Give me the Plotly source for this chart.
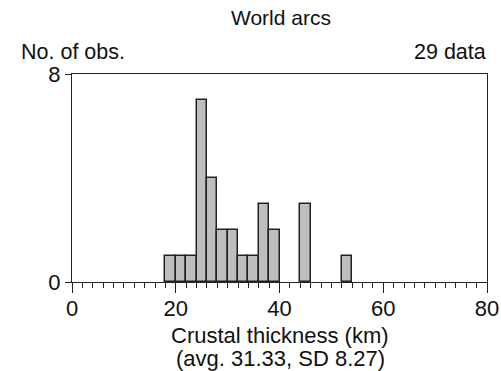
import plotly.graph_objects as go

bin_starts = [18, 20, 22, 24, 26, 28, 30, 32, 34, 36, 38, 40, 42, 44, 46, 48, 50, 52]
counts = [1, 1, 1, 7, 4, 2, 2, 1, 1, 3, 2, 0, 0, 3, 0, 0, 0, 1]
bin_width = 2
x_ticks = [0, 20, 40, 60, 80]
y_ticks = [0, 8]

# only draw non-empty bins (empty ones have no visible bar)
centers = [b + bin_width / 2 for b, c in zip(bin_starts, counts) if c > 0]
heights = [c for c in counts if c > 0]

FONT = "Liberation Sans, Arial, Helvetica, sans-serif"
W, H = 501, 371
pl, pr, pt, pb = 72, 487, 74, 282
FS = 22

fig = go.Figure()
fig.add_trace(go.Bar(
    x=centers, y=heights, width=[bin_width] * len(centers),
    marker=dict(color="#bebebe", line=dict(color="#222222", width=1.5)),
    showlegend=False,
))

fig.update_layout(
    width=W, height=H,
    margin=dict(l=pl, r=W - pr, t=pt, b=H - pb, autoexpand=False),
    paper_bgcolor="white", plot_bgcolor="white",
    font=dict(family=FONT, color="#111111", size=FS),
    bargap=0,
    xaxis=dict(
        range=[0, 80], tickvals=x_ticks, ticks="outside", ticklen=10, tickwidth=1.2,
        tickcolor="#222222", showline=True, linecolor="#222222", linewidth=1.2, mirror=True,
        showgrid=False, zeroline=False, tickfont=dict(size=FS), ticklabelstandoff=-4,
        minor=dict(dtick=2, ticks="outside", ticklen=5, tickwidth=1, tickcolor="#222222", showgrid=False),
    ),
    yaxis=dict(
        range=[0, 8], tickvals=y_ticks, ticks="outside", ticklen=6, tickwidth=1.2,
        tickcolor="#222222", showline=True, linecolor="#222222", linewidth=1.2, mirror=True,
        showgrid=False, zeroline=False, tickfont=dict(size=FS),
    ),
)

# annotations placed at reference pixel positions
ann_specs = [
    ("World arcs", 281, 17, "center", 21),
    ("No. of obs.", 19, 52, "left", 21.5),
    ("29 data", 488, 52, "right", 21.5),
    ("Crustal thickness (km)", 280, 335, "center", FS),
    ("(avg. 31.33, SD 8.27)", 280, 358, "center", FS),
]
anns = []
for text, x, y, xa, size in ann_specs:
    anns.append(dict(
        text=text, showarrow=False, xref="paper", yref="paper",
        x=(x - pl) / (pr - pl), y=(pb - y) / (pb - pt),
        xanchor=xa, yanchor="middle", font=dict(size=size),
    ))
fig.update_layout(annotations=anns)

fig.write_html(
    "out.html",
    config={"displayModeBar": False},
    post_script="document.body.style.margin='0';document.body.style.overflow='hidden';",
)
